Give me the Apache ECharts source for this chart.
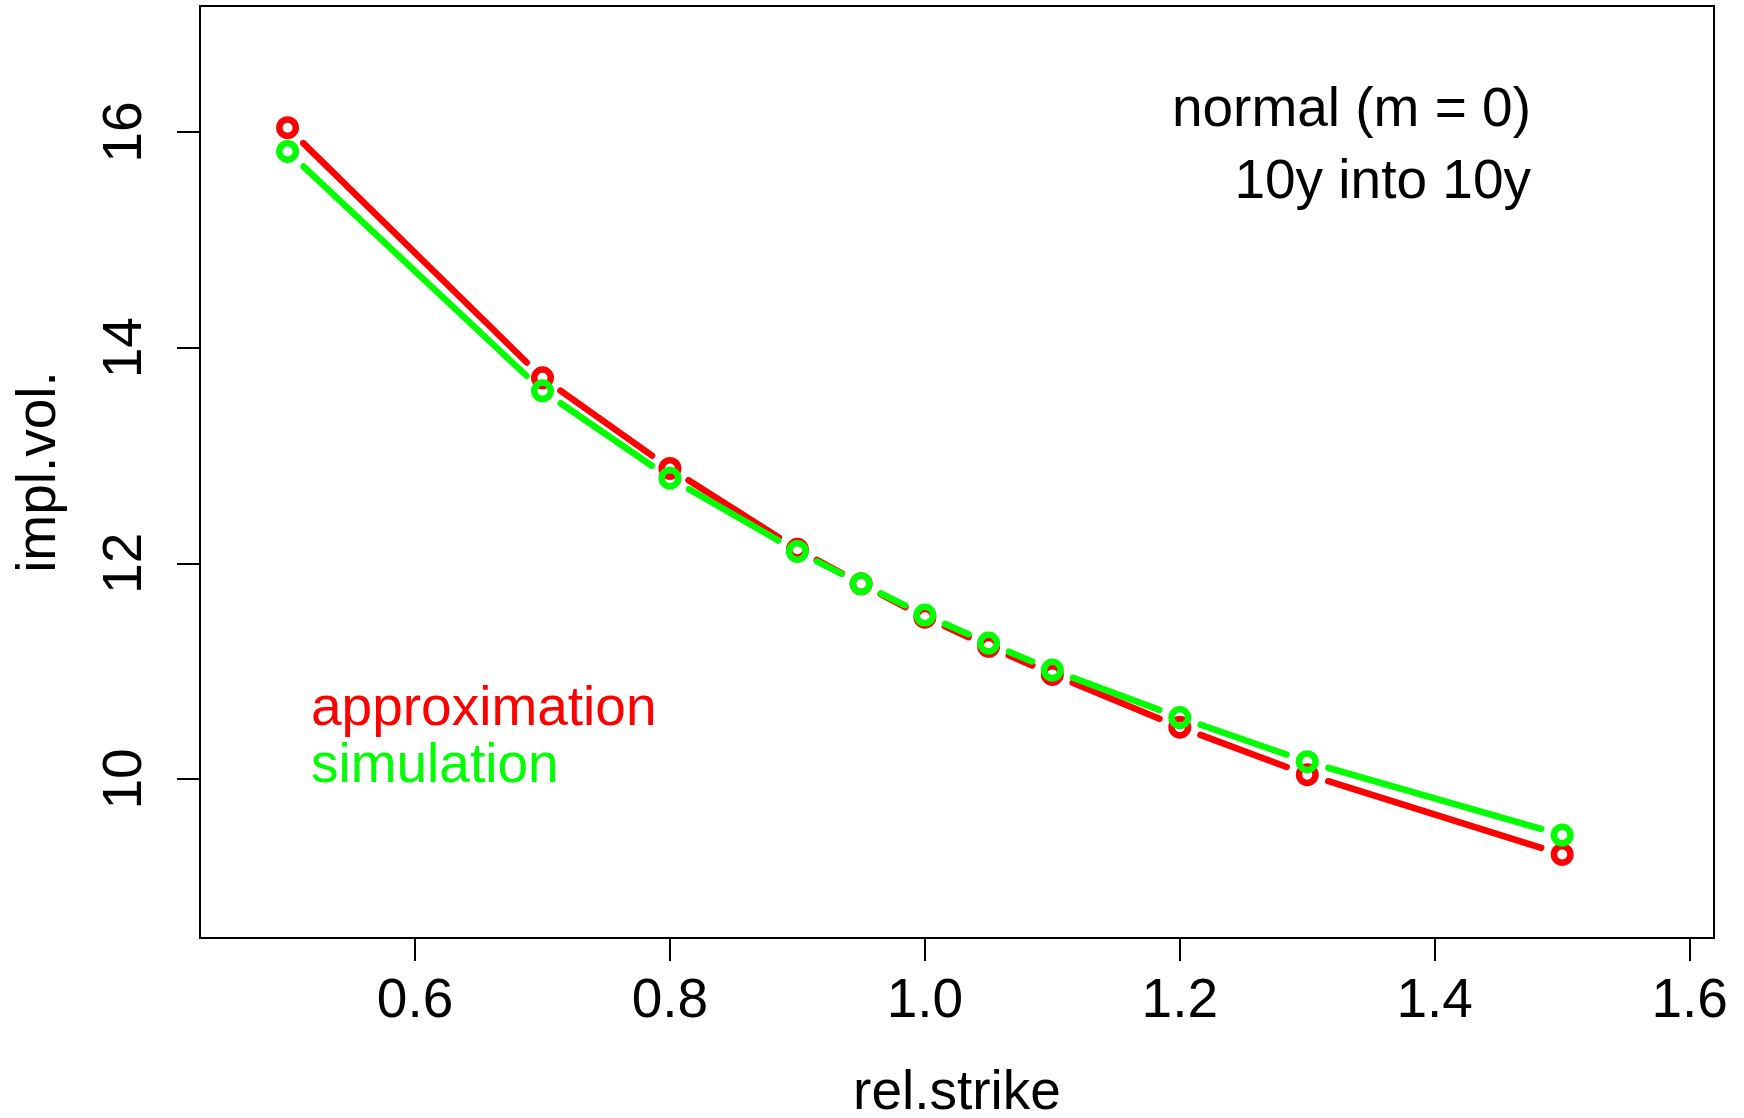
<!DOCTYPE html>
<html>
<head>
<meta charset="utf-8">
<script src="https://cdn.jsdelivr.net/npm/echarts@6/dist/echarts.min.js"></script>
<style>
html,body{margin:0;padding:0;background:#fff;}
#chart{width:1744px;height:1118px;}
</style>
</head>
<body>
<div id="chart"></div>
<script>
// ---- data ----
const relStrike = [0.5, 0.7, 0.8, 0.9, 0.95, 1.0, 1.05, 1.1, 1.2, 1.3, 1.5];
const approxVol = [16.04, 13.72, 12.88, 12.13, 11.81, 11.50, 11.23, 10.97, 10.48, 10.04, 9.30];
const simVol    = [15.82, 13.60, 12.79, 12.11, 11.81, 11.52, 11.26, 11.01, 10.57, 10.16, 9.48];
const xTicks = [0.6, 0.8, 1.0, 1.2, 1.4, 1.6];
const yTicks = [10, 12, 14, 16];
const seriesNames = ['approximation', 'simulation'];
const annotation = ['normal (m = 0)', '10y into 10y'];

// ---- styles ----
const RED = '#ff0000', GREEN = '#00ff00';
const FONT = '"Liberation Sans", Arial, sans-serif';
const FS = 55;
const GAP = 22;
const LW = 6.5;

function pts(xs, ys) { return xs.map((x, i) => [x, ys[i]]); }
function segs(xs, ys) { return xs.slice(0, -1).map((x, i) => [x, ys[i], xs[i + 1], ys[i + 1]]); }

function gapRenderer(color) {
  return function (params, api) {
    const p0 = api.coord([api.value(0), api.value(1)]);
    const p1 = api.coord([api.value(2), api.value(3)]);
    const dx = p1[0] - p0[0], dy = p1[1] - p0[1];
    const L = Math.hypot(dx, dy);
    if (L <= 2 * GAP) return null;
    const ux = dx / L, uy = dy / L;
    return {
      type: 'line',
      shape: { x1: p0[0] + ux * GAP, y1: p0[1] + uy * GAP, x2: p1[0] - ux * GAP, y2: p1[1] - uy * GAP },
      style: { stroke: color, lineWidth: LW, lineCap: 'round' }
    };
  };
}

function lineSeries(name, ys, color) {
  return [{
    name: name, type: 'custom', renderItem: gapRenderer(color),
    data: segs(relStrike, ys), encode: { x: [0, 2], y: [1, 3] }, silent: true
  }, {
    name: name, type: 'scatter', data: pts(relStrike, ys),
    symbol: 'circle', symbolSize: 16.5,
    itemStyle: { color: 'rgba(0,0,0,0)', borderColor: color, borderWidth: 6.5, opacity: 1 },
    silent: true
  }];
}

const chart = echarts.init(document.getElementById('chart'), null, { renderer: 'canvas' });
chart.setOption({
  animation: false,
  backgroundColor: '#fff',
  grid: { left: 200, top: 6, width: 1514, height: 932, show: true, borderColor: '#000', borderWidth: 2,
    backgroundColor: 'transparent', containLabel: false, outerBoundsMode: 'none' },
  xAxis: {
    type: 'value', min: 0.4313, max: 1.6191,
    name: 'rel.strike', nameLocation: 'middle', nameGap: 128,
    nameTextStyle: { fontSize: FS, fontFamily: FONT, color: '#000' },
    axisLine: { show: true, lineStyle: { color: '#000', width: 2 } },
    axisTick: { show: true, length: 23, lineStyle: { color: '#000', width: 2 }, customValues: xTicks },
    axisLabel: { fontSize: FS, fontFamily: FONT, color: '#000', margin: 36, customValues: xTicks,
      formatter: v => Number(v).toFixed(1) },
    splitLine: { show: false }
  },
  yAxis: {
    type: 'value', min: 8.525, max: 17.169,
    name: 'impl.vol.', nameLocation: 'middle', nameGap: 133,
    nameTextStyle: { fontSize: FS, fontFamily: FONT, color: '#000' },
    axisLine: { show: true, lineStyle: { color: '#000', width: 2 } },
    axisTick: { show: true, length: 23, lineStyle: { color: '#000', width: 2 }, customValues: yTicks },
    axisLabel: { fontSize: FS, fontFamily: FONT, color: '#000', margin: 47, rotate: 90, customValues: yTicks,
      formatter: v => String(Math.round(v)) },
    splitLine: { show: false }
  },
  graphic: [
    { type: 'text', right: 1744 - 1531, top: 83, style: { text: annotation[0], font: FS + 'px ' + FONT, fill: '#000', textAlign: 'right' } },
    { type: 'text', right: 1744 - 1531, top: 155, style: { text: annotation[1], font: FS + 'px ' + FONT, fill: '#000', textAlign: 'right' } },
    { type: 'text', left: 311, top: 682, style: { text: seriesNames[0], font: FS + 'px ' + FONT, fill: RED } },
    { type: 'text', left: 311, top: 739, style: { text: seriesNames[1], font: FS + 'px ' + FONT, fill: GREEN } }
  ],
  series: [].concat(lineSeries(seriesNames[0], approxVol, RED), lineSeries(seriesNames[1], simVol, GREEN))
});
</script>
</body>
</html>
